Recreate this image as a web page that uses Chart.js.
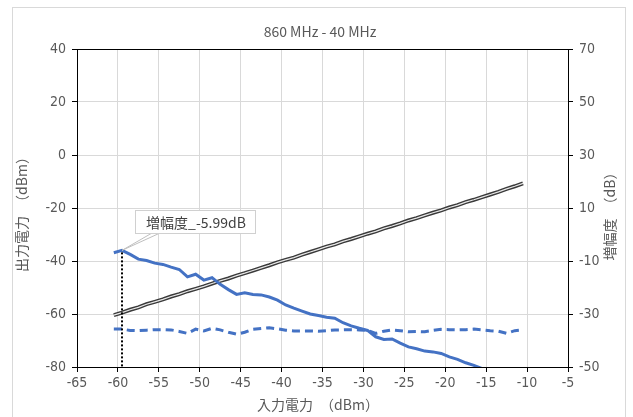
<!DOCTYPE html>
<html>
<head>
<meta charset="utf-8">
<script src="https://cdn.jsdelivr.net/npm/chart.js@4/dist/chart.umd.min.js"></script>
<style>
  html, body { margin: 0; padding: 0; background: #fff; }
  #wrap { width: 633px; height: 417px; position: relative; }
</style>
</head>
<body>
<div id="wrap"><canvas id="myChart" width="633" height="417"></canvas></div>
<script>
// ----------- data ----------- //
const inputPower = [
    -60.5, -59.5, -58.5, -57.5, -56.5, -55.5, -54.5, -53.5, -52.5, -51.5,
    -50.5, -49.5, -48.5, -47.5, -46.5, -45.5, -44.5, -43.5, -42.5, -41.5,
    -40.5, -39.5, -38.5, -37.5, -36.5, -35.5, -34.5, -33.5, -32.5, -31.5,
    -30.5, -29.5, -28.5, -27.5, -26.5, -25.5, -24.5, -23.5, -22.5, -21.5,
    -20.5, -19.5, -18.5, -17.5, -16.5, -15.5, -14.5, -13.5, -12.5, -11.5,
    -10.5
];
// 出力電力 (dBm), left axis
const outputPower = [
    -60.4, -59.5, -58.4, -57.5, -56.3, -55.4, -54.5, -53.4, -52.5, -51.4,
    -50.5, -49.6, -48.5, -47.5, -46.6, -45.5, -44.6, -43.6, -42.6, -41.6,
    -40.5, -39.6, -38.7, -37.6, -36.6, -35.6, -34.6, -33.7, -32.6, -31.7,
    -30.7, -29.7, -28.8, -27.7, -26.8, -25.8, -24.7, -23.8, -22.8, -21.8,
    -20.9, -19.8, -18.9, -17.8, -16.9, -15.9, -14.9, -13.9, -12.8, -11.8,
    -10.7
];
// dashed series, left axis
const spurPower = [
    -65.7, -65.7, -66.2, -66.3, -66.1, -65.9, -65.9, -66.0, -66.6, -67.3,
    -65.7, -66.4, -65.4, -66.0, -66.9, -67.6, -66.9, -65.8, -65.5, -65.2,
    -65.6, -66.1, -66.4, -66.4, -66.4, -66.5, -66.3, -66.0, -66.0, -65.9,
    -66.0, -66.2, -67.3, -66.5, -66.0, -66.3, -66.7, -66.6, -66.7, -66.2,
    -65.8, -65.9, -66.0, -65.9, -65.7, -66.0, -66.3, -66.5, -67.3, -66.3,
    -66.0
];
// 増幅度 (dB), right axis
const gain = [
    -6.9, -5.99, -7.5, -9.3, -9.8, -10.8, -11.3, -12.3, -13.2, -16.0,
    -15.0, -17.2, -16.3, -18.8, -20.8, -22.6, -22.0, -22.6, -22.8, -23.6,
    -24.8, -26.6, -27.8, -28.9, -30.0, -30.6, -31.2, -31.6, -33.3, -34.5,
    -35.4, -36.2, -38.6, -39.6, -39.4, -41.0, -42.4, -43.1, -44.0, -44.3,
    -44.9, -46.2, -47.1, -48.4, -49.4, -50.6, -51.5, -52.6, -53.4, -54.5,
    -55.2
];
const markerIndex = 1;
const markerLabel = '増幅度_-5.99dB';

const chartTitle = '860 MHz - 40 MHz';
const xTitle = '入力電力　（dBm）';
const yTitle = '出力電力　（dBm）';
const y1Title = '増幅度　（dB）';

const pts = arr => arr.map((v, i) => ({ x: inputPower[i], y: v }));

const NUM_FONT = "'Liberation Sans Narrow', 'DejaVu Sans Condensed', sans-serif";
const CJK_FONT = "'Noto Sans CJK JP', sans-serif";
const TEXT_COLOR = '#595959';

// ----------- decorations ----------- //
const decorations = {
    id: 'decorations',
    beforeDraw(chart) {
        const c = chart.ctx;
        c.save();
        c.fillStyle = '#fff';
        c.fillRect(0, 0, chart.width, chart.height);
        c.strokeStyle = '#d9d9d9';
        c.lineWidth = 1;
        c.strokeRect(12.5, 7.5, 613, 420);
        c.restore();
    },
    afterDraw(chart) {
        const c = chart.ctx;
        const a = chart.chartArea;
        const xs = chart.scales.x, ys = chart.scales.y1;
        c.save();

        // top border line
        c.strokeStyle = '#000';
        c.lineWidth = 1;
        c.beginPath();
        c.moveTo(a.left, a.top + 0.5);
        c.lineTo(a.right, a.top + 0.5);
        c.stroke();

        // titles
        c.fillStyle = TEXT_COLOR;
        c.textAlign = 'center';
        c.textBaseline = 'middle';
        c.font = "14px " + CJK_FONT;
        c.fillText(chartTitle, 320, 32);
        c.fillText(xTitle, 318, 405);

        c.save();
        c.translate(22, 211);
        c.rotate(-Math.PI / 2);
        c.fillText(yTitle, 0, 0);
        c.restore();

        c.save();
        c.translate(610, 213);
        c.rotate(-Math.PI / 2);
        c.fillText(y1Title, 0, 0);
        c.restore();

        // dotted drop line at marker
        const px = xs.getPixelForValue(inputPower[markerIndex]);
        const py = ys.getPixelForValue(gain[markerIndex]);
        c.strokeStyle = '#000';
        c.lineWidth = 2;
        c.setLineDash([2, 2]);
        c.beginPath();
        c.moveTo(px, py + 2);
        c.lineTo(px, a.bottom);
        c.stroke();
        c.setLineDash([]);

        // callout
        const bx = 135, by = 210, bw = 120, bh = 23;
        c.strokeStyle = '#bfbfbf';
        c.lineWidth = 1;
        c.beginPath();
        c.moveTo(152, by + bh);
        c.lineTo(px, py);
        c.lineTo(160, by + bh);
        c.stroke();
        c.fillStyle = '#fff';
        c.fillRect(bx, by, bw, bh);
        c.strokeStyle = '#d0d0d0';
        c.strokeRect(bx + 0.5, by + 0.5, bw, bh);
        c.fillStyle = '#404040';
        c.font = "14px " + CJK_FONT;
        c.textAlign = 'center';
        c.fillText(markerLabel, bx + bw / 2 + 1, by + bh / 2 + 1);

        c.restore();
    }
};

// ----------- chart ----------- //
const ctx = document.getElementById('myChart');
const chart = new Chart(ctx, {
    type: 'line',
    data: {
        datasets: [
            {
                data: pts(gain),
                yAxisID: 'y1',
                borderColor: '#4472c4',
                borderWidth: 3,
                order: 0,
            },
            {
                data: pts(spurPower),
                yAxisID: 'y',
                borderColor: '#4472c4',
                borderWidth: 3,
                borderDash: [8, 5],
                order: 1,
            },
            {
                data: pts(outputPower),
                yAxisID: 'y',
                borderColor: '#e8e8e8',
                borderWidth: 1.2,
                order: 2,
            },
            {
                data: pts(outputPower),
                yAxisID: 'y',
                borderColor: '#3a3a3a',
                borderWidth: 4,
                order: 3,
            },
        ]
    },
    options: {
        responsive: false,
        animation: false,
        events: [],
        elements: { point: { radius: 0 }, line: { tension: 0 } },
        layout: { padding: { top: 49, left: 0, right: 0, bottom: 0 } },
        plugins: {
            legend: { display: false },
            tooltip: { enabled: false },
            title: { display: false },
        },
        scales: {
            x: {
                type: 'linear',
                min: -65, max: -5,
                ticks: { stepSize: 5, color: TEXT_COLOR, font: { family: NUM_FONT, size: 14 }, padding: 3, maxRotation: 0 },
                grid: { color: '#d9d9d9', tickColor: '#000', tickLength: 5 },
                border: { color: '#000', width: 1 },
                afterFit: s => { s.height = 50; },
            },
            y: {
                position: 'left',
                min: -80, max: 40,
                ticks: { stepSize: 20, color: TEXT_COLOR, font: { family: NUM_FONT, size: 14 }, padding: 6 },
                grid: { color: '#d9d9d9', tickColor: '#000', tickLength: 5 },
                border: { color: '#000', width: 1 },
                afterFit: s => { s.width = 77; },
            },
            y1: {
                position: 'right',
                min: -50, max: 70,
                ticks: { stepSize: 20, color: TEXT_COLOR, font: { family: NUM_FONT, size: 14 }, padding: 6 },
                grid: { drawOnChartArea: false, tickColor: '#000', tickLength: 5 },
                border: { color: '#000', width: 1 },
                afterFit: s => { s.width = 65; },
            },
        }
    },
    plugins: [decorations]
});
</script>
</body>
</html>
